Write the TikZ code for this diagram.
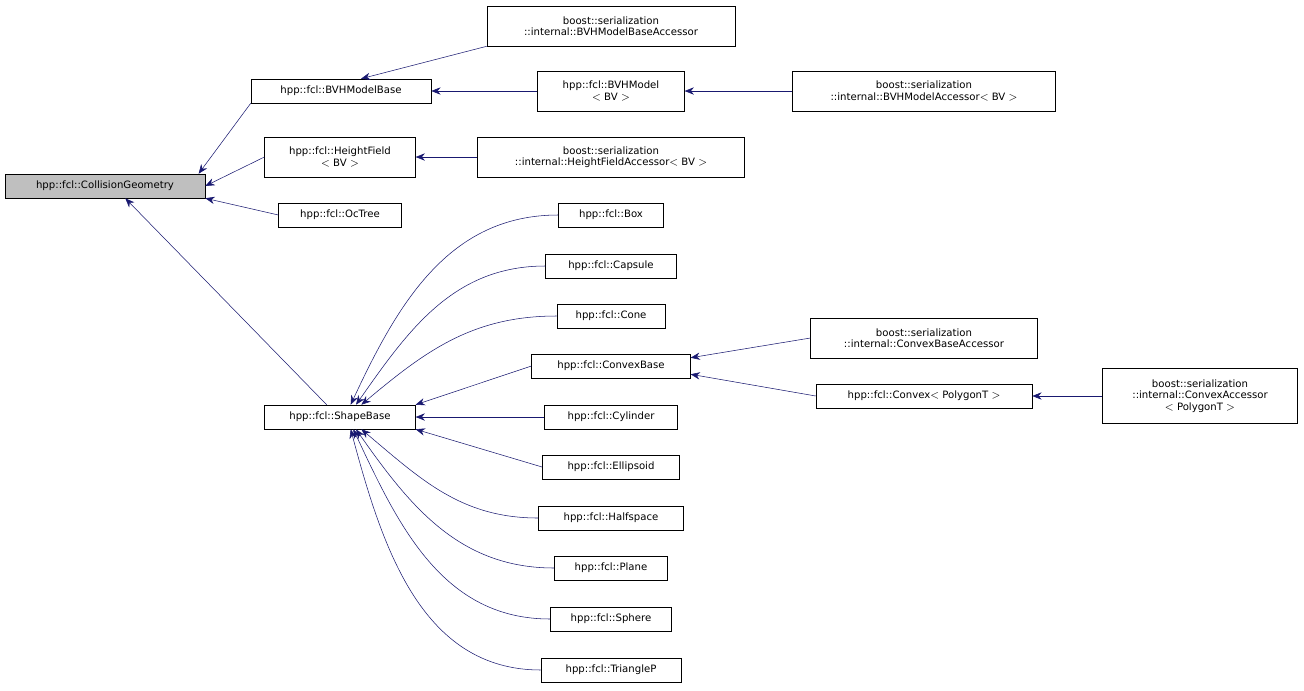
\documentclass[tikz,border=0pt]{standalone}
\usepackage{fontspec}
\setmainfont{DejaVu Sans}
\usetikzlibrary{positioning, arrows.meta}
\definecolor{midnightblue}{HTML}{191970}
\begin{document}
\begin{tikzpicture}[
        x=0.75pt, y=-0.75pt,
        cls/.style={draw=black, fill=white, inner sep=1.5pt, font=\fontsize{7.6}{8.6}\selectfont, align=center},
        edge/.style={draw=midnightblue, {Stealth[length=7pt,width=5.5pt]}-},
    ]
    \useasboundingbox (0,0) rectangle (1304,690);

    % Base classes
    \node[cls, fill=black!25, minimum width=150pt, minimum height=18pt] (CG) at (105,186) {hpp::fcl::CollisionGeometry};
    \node[cls, minimum width=135pt, minimum height=18pt] (BMB) at (341,91) {hpp::fcl::BVHModelBase};
    \node[cls, minimum width=113pt, minimum height=30pt] (HF) at (340,157) {hpp::fcl::HeightField\\$<$ BV $>$};
    \node[cls, minimum width=92pt, minimum height=18pt] (OT) at (340,215) {hpp::fcl::OcTree};
    \node[cls, minimum width=113pt, minimum height=18pt] (SB) at (340,417) {hpp::fcl::ShapeBase};

    % Derived classes
    \node[cls, minimum width=186pt, minimum height=30pt] (BMBA) at (611,26) {boost::serialization\\::internal::BVHModelBaseAccessor};
    \node[cls, minimum width=110pt, minimum height=30pt] (BM) at (611,91) {hpp::fcl::BVHModel\\$<$ BV $>$};
    \node[cls, minimum width=197pt, minimum height=30pt] (BMA) at (924,91) {boost::serialization\\::internal::BVHModelAccessor$<$ BV $>$};
    \node[cls, minimum width=200pt, minimum height=30pt] (HFA) at (611,157) {boost::serialization\\::internal::HeightFieldAccessor$<$ BV $>$};
    \node[cls, minimum width=170pt, minimum height=30pt] (CBA) at (924,338) {boost::serialization\\::internal::ConvexBaseAccessor};
    \node[cls, minimum width=162pt, minimum height=18pt] (CV) at (924,396) {hpp::fcl::Convex$<$ PolygonT $>$};
    \node[cls, minimum width=146pt, minimum height=41pt] (CVA) at (1200,396) {boost::serialization\\::internal::ConvexAccessor\\$<$ PolygonT $>$};

    % Shapes
    \foreach \name/\txt/\y/\w in {Box/Box/215/79, Cap/Capsule/266/98, Cone/Cone/316/81, CB/ConvexBase/366/119,
            Cyl/Cylinder/417/100, Ell/Ellipsoid/467/103, Half/Halfspace/518/109, Pl/Plane/568/85,
            Sph/Sphere/619/91, Tri/TriangleP/670/105}
        \node[cls, minimum width=\w pt, minimum height=18pt] (\name) at (611,\y) {hpp::fcl::\txt};

    % Inheritance
    \draw[edge] ([xshift=-5pt]CG.north east) -- (BMB.south west);
    \draw[edge] (CG.east) -- (HF.west);
    \draw[edge] (CG.south east) -- (OT.west);
    \draw[edge] ([xshift=-60pt]CG.south east) -- ([xshift=-10pt]SB.north);
    \draw[edge] ([xshift=15pt]BMB.north) -- (BMBA.south west);
    \draw[edge] (BMB.east) -- (BM.west);
    \draw[edge] (BM.east) -- (BMA.west);
    \draw[edge] (HF.east) -- (HFA.west);
    \draw[edge] ([xshift=8pt]SB.north) to[out=65,in=180] (Box.west);
    \draw[edge] ([xshift=12pt]SB.north) to[out=55,in=180] (Cap.west);
    \draw[edge] ([xshift=16pt]SB.north) to[out=40,in=180] (Cone.west);
    \draw[edge] (SB.north east) -- (CB.west);
    \draw[edge] (SB.east) -- (Cyl.west);
    \draw[edge] (SB.south east) -- (Ell.west);
    \draw[edge] ([xshift=16pt]SB.south) to[out=-40,in=180] (Half.west);
    \draw[edge] ([xshift=12pt]SB.south) to[out=-55,in=180] (Pl.west);
    \draw[edge] ([xshift=10pt]SB.south) to[out=-65,in=180] (Sph.west);
    \draw[edge] ([xshift=8pt]SB.south) to[out=-75,in=180] (Tri.west);
    \draw[edge] ([yshift=-3pt]CB.north east) -- (CBA.west);
    \draw[edge] ([yshift=3pt]CB.south east) -- (CV.west);
    \draw[edge] (CV.east) -- (CVA.west);
\end{tikzpicture}
\end{document}
